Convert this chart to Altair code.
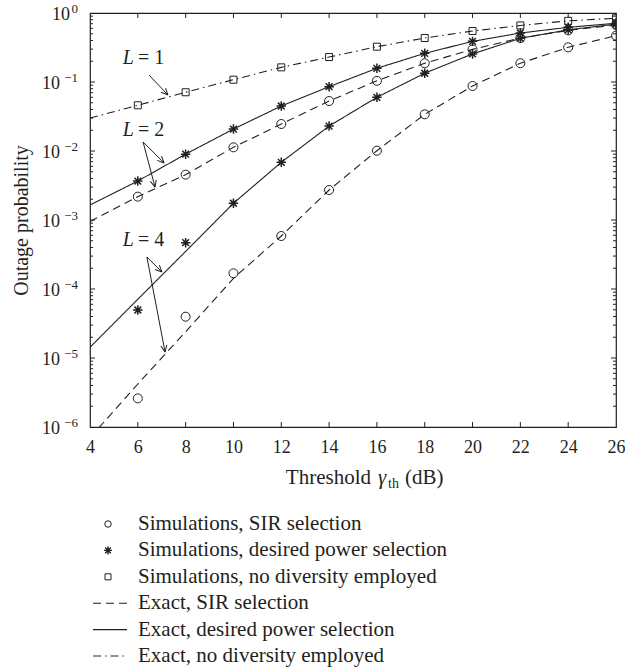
import math
import altair as alt
import pandas as pd

# ---------------- data ----------------
X_SIM = [6, 8, 10, 12, 14, 16, 18, 20, 22, 24, 26]
X_EXACT = [4, 6, 8, 10, 12, 14, 16, 18, 20, 22, 24, 26]

SIM_SIR_L2 = [0.00218, 0.00454, 0.0113, 0.0246, 0.053, 0.104, 0.187, 0.297, 0.434, 0.56, 0.67]
SIM_SIR_L4 = [2.6e-6, 3.97e-5, 1.69e-4, 5.86e-4, 0.00272, 0.0101, 0.034, 0.0875, 0.187, 0.318, 0.47]
SIM_POW_L2 = [0.00367, 0.0090, 0.0208, 0.0449, 0.0855, 0.158, 0.26, 0.388, 0.513, 0.62, 0.71]
SIM_POW_L4 = [4.96e-5, 4.69e-4, 0.00175, 0.00686, 0.023, 0.060, 0.134, 0.255, 0.43, 0.57, 0.69]
SIM_NONE_L1 = [0.046, 0.071, 0.108, 0.163, 0.23, 0.325, 0.434, 0.548, 0.66, 0.77, 0.84]

EXACT_SIR_L2 = [0.00095, 0.00218, 0.00454, 0.0113, 0.0246, 0.053, 0.104, 0.187, 0.297, 0.434, 0.56, 0.67]
EXACT_SIR_L4 = [7e-7, 4.2e-6, 2.4e-5, 1.43e-4, 5.86e-4, 0.00272, 0.0101, 0.034, 0.0875, 0.187, 0.318, 0.47]
EXACT_POW_L2 = [0.00165, 0.00367, 0.0090, 0.0208, 0.0449, 0.0855, 0.158, 0.26, 0.388, 0.513, 0.62, 0.71]
EXACT_POW_L4 = [1.43e-5, 7.1e-5, 3.5e-4, 0.00175, 0.00686, 0.023, 0.060, 0.134, 0.255, 0.43, 0.57, 0.69]
EXACT_NONE_L1 = [0.030, 0.046, 0.071, 0.108, 0.163, 0.23, 0.325, 0.434, 0.548, 0.66, 0.77, 0.84]

# axis ticks
X_TICKS = [4, 6, 8, 10, 12, 14, 16, 18, 20, 22, 24, 26]
X_INNER_TICKS = [6, 8, 10, 12, 14, 16, 18, 20, 22, 24]
Y_DECADES = [1, 1e-1, 1e-2, 1e-3, 1e-4, 1e-5, 1e-6]
Y_EXPONENTS = ["0", "−1", "−2", "−3", "−4", "−5", "−6"]
Y_MINOR = [m * 10.0 ** k for k in range(-6, 0) for m in range(2, 10)]

# annotations "L = n" with arrows
ANN_N = ["1", "2", "4"]
ANN_X = [5.88, 5.88, 5.88]
ANN_Y = [0.2228, 0.0201, 5.13e-4]
ARROW_X0 = [6.47, 6.22, 6.22, 6.38, 6.38]
ARROW_Y0 = [0.126, 0.0135, 0.0135, 2.91e-4, 2.91e-4]
ARROW_X1 = [7.26, 7.10, 6.72, 7.01, 7.14]
ARROW_Y1 = [0.0648, 0.0067, 0.0030, 1.76e-4, 1.22e-5]

LEGEND_SIM = ["Simulations, SIR selection",
              "Simulations, desired power selection",
              "Simulations, no diversity employed"]
LEGEND_EXACT = ["Exact, SIR selection",
                "Exact, desired power selection",
                "Exact, no diversity employed"]
X_TITLE = ["Threshold", "γ", "th", "(dB)"]
Y_TITLE = "Outage probability"

# ---------------- styles ----------------
INK = "#231f20"
FONT = "Liberation Serif"
W, H = 526, 414
STAR = "M0,-1L0,1M-1,0L1,0M-0.71,-0.71L0.71,0.71M-0.71,0.71L0.71,-0.71"
ARROWHEAD = "M0,0L-1,-0.45M0,0L-1,0.45"
DASH = {"SIR": [8, 5], "power": [1, 0], "none": [8, 4, 1.5, 4]}

XS = alt.Scale(domain=[4, 26], nice=False, zero=False)
YS = alt.Scale(type="log", domain=[1e-6, 1], nice=False)
XAX = alt.Axis(title=None, values=X_TICKS, ticks=False, tickSize=0, domain=False,
               grid=False, labelFont=FONT, labelFontSize=18, labelColor=INK,
               labelPadding=11, labelFlush=False, labelOverlap=False)
YAX = alt.Axis(title=Y_TITLE, values=Y_DECADES, ticks=False, tickSize=0, domain=False,
               grid=False, labels=False,
               titleX=-63, titleY=H / 2, titleAngle=270, titleAlign="center",
               titleBaseline="alphabetic", titleFont=FONT, titleFontSize=20,
               titleFontWeight="normal", titleColor=INK)


def X(f):
    return alt.X(f, type="quantitative", scale=XS, axis=XAX)


def Y(f):
    return alt.Y(f, type="quantitative", scale=YS, axis=YAX)


layers = []

# exact curves
exact_rows = []
for kind, L, vals in [("SIR", 2, EXACT_SIR_L2), ("SIR", 4, EXACT_SIR_L4),
                      ("power", 2, EXACT_POW_L2), ("power", 4, EXACT_POW_L4),
                      ("none", 1, EXACT_NONE_L1)]:
    for x, p in zip(X_EXACT, vals):
        exact_rows.append({"x": x, "p": p, "kind": kind, "curve": f"{kind}{L}"})
exact_df = pd.DataFrame(exact_rows)
for kind in ["SIR", "power", "none"]:
    layers.append(
        alt.Chart(exact_df[exact_df.kind == kind]).mark_line(
            color=INK, strokeWidth=1.1, strokeDash=DASH[kind], clip=True
        ).encode(x=X("x"), y=Y("p"), detail="curve:N", order="x:Q")
    )

# simulation markers
sim_specs = [("SIR", [SIM_SIR_L2, SIM_SIR_L4], "circle", 81, 1.0),
             ("power", [SIM_POW_L2, SIM_POW_L4], STAR, 90, 1.5),
             ("none", [SIM_NONE_L1], "square", 49, 1.0)]
for kind, series, shape, size, sw in sim_specs:
    rows = [{"x": x, "p": p} for vals in series for x, p in zip(X_SIM, vals)]
    layers.append(
        alt.Chart(pd.DataFrame(rows)).mark_point(
            shape=shape, size=size, filled=False, color=INK, strokeWidth=sw,
            opacity=1, clip=True
        ).encode(x=X("x"), y=Y("p"))
    )

# inward ticks on the frame
xt = pd.DataFrame([{"x": x, "p": p} for x in X_INNER_TICKS for p in [1, 1e-6]])
layers.append(alt.Chart(xt).mark_tick(orient="vertical", size=10, thickness=1,
                                      color=INK, clip=True, opacity=1)
              .encode(x=X("x"), y=Y("p")))
ytM = pd.DataFrame([{"x": x, "p": p} for x in [4, 26] for p in Y_DECADES[1:-1]])
layers.append(alt.Chart(ytM).mark_tick(orient="horizontal", size=10, thickness=1,
                                       color=INK, clip=True, opacity=1)
              .encode(x=X("x"), y=Y("p")))
ytm = pd.DataFrame([{"x": x, "p": p} for x in [4, 26] for p in Y_MINOR])
layers.append(alt.Chart(ytm).mark_tick(orient="horizontal", size=6, thickness=1,
                                       color=INK, clip=True, opacity=1)
              .encode(x=X("x"), y=Y("p")))

# y tick labels: "10" with a raised exponent
ylab = pd.DataFrame({"x": [4] * len(Y_DECADES), "p": Y_DECADES, "e": Y_EXPONENTS})
layers.append(alt.Chart(ylab.iloc[:1]).mark_text(text="10", font=FONT, fontSize=18, align="right",
                                                 baseline="middle", dx=-20, dy=2, color=INK)
              .encode(x=X("x"), y=Y("p")))
layers.append(alt.Chart(ylab.iloc[1:]).mark_text(text="10", font=FONT, fontSize=18, align="right",
                                                 baseline="middle", dx=-30, dy=2, color=INK)
              .encode(x=X("x"), y=Y("p")))
layers.append(alt.Chart(ylab).mark_text(font=FONT, fontSize=13, align="right",
                                        baseline="middle", dx=-12, dy=-4, color=INK)
              .encode(x=X("x"), y=Y("p"), text="e:N"))

# arrows
arr = pd.DataFrame({"x0": ARROW_X0, "y0": ARROW_Y0, "x1": ARROW_X1, "y1": ARROW_Y1})
arr["ang"] = [
    math.degrees(math.atan2(-(math.log10(b1) - math.log10(b0)) * H / 6.0,
                            (a1 - a0) * W / 22.0)) % 360
    for a0, b0, a1, b1 in zip(ARROW_X0, ARROW_Y0, ARROW_X1, ARROW_Y1)
]
layers.append(alt.Chart(arr).mark_rule(color=INK, strokeWidth=1)
              .encode(x=X("x0"), y=Y("y0"), x2="x1:Q", y2="y1:Q"))
layers.append(alt.Chart(arr).mark_point(shape=ARROWHEAD, size=180, filled=False,
                                        color=INK, strokeWidth=1, opacity=1)
              .encode(x=X("x1"), y=Y("y1"), angle=alt.Angle("ang:Q", scale=None)))

ann = pd.DataFrame({"x": ANN_X, "p": ANN_Y, "n": ANN_N})
ann["rest"] = "= " + ann["n"]
layers.append(alt.Chart(ann).mark_text(text="L", font=FONT, fontSize=20, fontStyle="italic",
                                       align="right", baseline="middle", dx=-1, color=INK)
              .encode(x=X("x"), y=Y("p")))
layers.append(alt.Chart(ann).mark_text(font=FONT, fontSize=20, align="left",
                                       baseline="middle", dx=3, color=INK)
              .encode(x=X("x"), y=Y("p"), text="rest:N"))

# x-axis title with subscript
one = pd.DataFrame({"a": [0]})
TY = 471
layers.append(alt.Chart(one).mark_text(text=X_TITLE[0], font=FONT, fontSize=21, align="right",
                                       baseline="alphabetic", color=INK)
              .encode(x=alt.value(281), y=alt.value(TY)))
layers.append(alt.Chart(one).mark_text(text=X_TITLE[1], font=FONT, fontSize=21, fontStyle="italic",
                                       align="left", baseline="alphabetic", color=INK)
              .encode(x=alt.value(288), y=alt.value(TY)))
layers.append(alt.Chart(one).mark_text(text=X_TITLE[2], font=FONT, fontSize=14, align="left",
                                       baseline="alphabetic", color=INK)
              .encode(x=alt.value(298), y=alt.value(TY + 4)))
layers.append(alt.Chart(one).mark_text(text=X_TITLE[3], font=FONT, fontSize=21, align="left",
                                       baseline="alphabetic", color=INK)
              .encode(x=alt.value(315), y=alt.value(TY)))

# custom legend
LEG_Y0, LEG_DY = 511, 26.4
sym_shapes = [("circle", 42, 1.0), (STAR, 64, 1.4), ("square", 36, 1.0)]
for i, (label, (shape, size, sw)) in enumerate(zip(LEGEND_SIM, sym_shapes)):
    y = LEG_Y0 + i * LEG_DY
    layers.append(alt.Chart(one).mark_point(shape=shape, size=size, filled=False, color=INK,
                                            strokeWidth=sw, opacity=1)
                  .encode(x=alt.value(18), y=alt.value(y)))
    layers.append(alt.Chart(one).mark_text(text=label, font=FONT, fontSize=21, align="left",
                                           baseline="middle", color=INK)
                  .encode(x=alt.value(48), y=alt.value(y)))
for j, (label, kind) in enumerate(zip(LEGEND_EXACT, ["SIR", "power", "none"])):
    y = LEG_Y0 + (j + 3) * LEG_DY
    layers.append(alt.Chart(one).mark_rule(color=INK, strokeWidth=1.1, strokeDash=DASH[kind])
                  .encode(x=alt.value(3), x2=alt.value(37), y=alt.value(y)))
    layers.append(alt.Chart(one).mark_text(text=label, font=FONT, fontSize=21, align="left",
                                           baseline="middle", color=INK)
                  .encode(x=alt.value(48), y=alt.value(y)))

chart = alt.layer(*layers).properties(
    width=W, height=H,
    padding={"left": 90, "top": 13, "right": 9, "bottom": 245},
    autosize=alt.AutoSizeParams(type="none"),
    background="white",
).configure_view(stroke=INK, strokeWidth=1.2)

chart.save("out.html", embed_options={"renderer": "svg", "actions": False})
